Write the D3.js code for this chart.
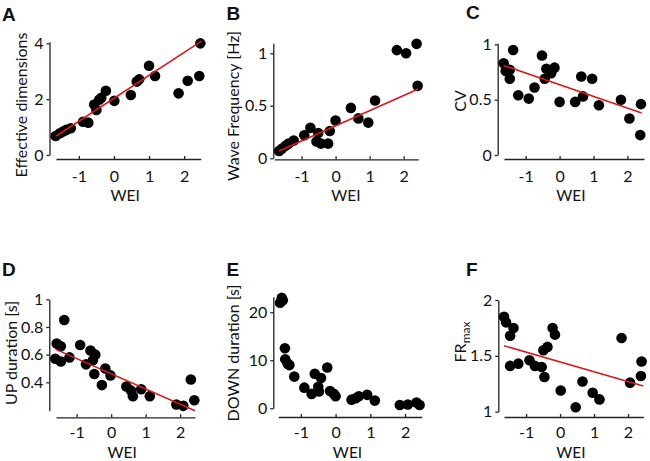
<!DOCTYPE html>
<html><head><meta charset="utf-8">
<script src="https://cdn.jsdelivr.net/npm/d3@7"></script>
<style>
body{margin:0;background:#fff;}
text{font-family:Lato,"Open Sans",sans-serif;fill:#111;}
</style></head>
<body>
<script>
// ---- Data ----
const xTickValues = [-1, 0, 1, 2];

const aX = [-1.66,-1.54,-1.45,-1.36,-1.23,-0.88,-0.73,-0.56,-0.5,-0.42,-0.36,-0.23,0.01,0.48,0.65,0.72,1.0,1.17,1.84,2.1,2.43,2.46];
const aY = [0.68,0.78,0.84,0.9,0.96,1.19,1.16,1.81,1.61,1.98,2.05,2.3,1.94,2.15,2.63,2.71,3.2,2.83,2.21,2.66,2.83,4.0];
const aFit = [[-1.64,0.68],[2.49,4.08]];
const aTicks = [0,2,4];

const bX = [-1.66,-1.58,-1.47,-1.38,-1.23,-0.92,-0.74,-0.51,-0.56,-0.43,-0.22,-0.17,0.0,0.45,0.67,0.96,1.16,1.8,2.07,2.38,2.41];
const bY = [0.07,0.09,0.12,0.14,0.17,0.22,0.29,0.24,0.16,0.14,0.14,0.26,0.36,0.48,0.38,0.34,0.55,1.03,1.0,1.09,0.69];
const bFit = [[-1.66,0.07],[2.43,0.66]];
const bTicks = [0,0.5,1];

const cX = [-1.65,-1.59,-1.47,-1.47,-1.37,-1.22,-0.91,-0.74,-0.52,-0.44,-0.39,-0.25,-0.15,0.0,0.46,0.64,0.69,0.96,1.16,1.81,2.06,2.4,2.38];
const cY = [0.83,0.76,0.77,0.69,0.95,0.54,0.51,0.61,0.9,0.69,0.78,0.74,0.79,0.48,0.48,0.71,0.53,0.69,0.45,0.5,0.33,0.46,0.18];
const cFit = [[-1.65,0.81],[2.42,0.38]];
const cTicks = [0,0.5,1];

const dX = [-1.62,-1.58,-1.46,-1.46,-1.36,-1.21,-0.9,-0.73,-0.6,-0.46,-0.49,-0.53,-0.27,-0.17,-0.02,0.44,0.58,0.63,0.87,1.12,1.89,2.09,2.31,2.41];
const dY = [0.57,0.68,0.66,0.55,0.85,0.58,0.67,0.53,0.63,0.6,0.46,0.56,0.38,0.5,0.45,0.37,0.34,0.3,0.35,0.3,0.24,0.23,0.42,0.27];
const dFit = [[-1.62,0.64],[2.43,0.195]];
const dTicks = [0.4,0.6,0.8,1];

const eX = [-1.6,-1.55,-1.52,-1.46,-1.45,-1.38,-1.33,-1.19,-0.9,-0.69,-0.6,-0.42,-0.5,-0.48,-0.24,-0.16,-0.05,0.0,0.46,0.58,0.67,0.91,1.13,1.85,2.08,2.33,2.42];
const eY = [22.0,23.0,22.5,12.5,10.2,9.3,9.0,6.6,4.3,3.0,7.2,6.3,4.5,3.5,8.5,3.6,3.0,2.5,1.8,2.1,2.5,2.8,1.6,0.7,0.8,1.2,0.7];
const eTicks = [0,10,20];

const fX = [-1.65,-1.59,-1.37,-1.47,-1.47,-1.23,-0.9,-0.74,-0.54,-0.46,-0.49,-0.37,-0.22,-0.15,0.02,0.46,0.66,0.96,1.16,1.81,2.06,2.4,2.38];
const fY = [1.85,1.8,1.75,1.68,1.41,1.43,1.46,1.41,1.4,1.31,1.55,1.58,1.75,1.69,1.19,1.04,1.27,1.17,1.11,1.66,1.26,1.45,1.32];
const fFit = [[-1.65,1.59],[2.45,1.23]];
const fTicks = [1,1.5,2];

// ---- Layout ----
const panels = [
  {tag:"A", xs:aX, ys:aY, fit:aFit, yTicks:aTicks, yLabel:"Effective dimensions",
   yAxisX:49.5, yDom:[0,4.06], yRange:[155,41.7], xAxisY:159, xDom:[-1.65,2.47], xRange:[56,200.7],
   lab:[21,105], tagPos:[2,21], tickY:23, xLabY:201},
  {tag:"B", xs:bX, ys:bY, fit:bFit, yTicks:bTicks, yLabel:"Wave Frequency [Hz]",
   yAxisX:273.3, yDom:[0,1.095], yRange:[158.3,43.3], xAxisY:159.3, xDom:[-1.80,2.43], xRange:[274.3,418.3],
   lab:[233,106], tagPos:[226.5,20], tickY:23, xLabY:201},
  {tag:"C", xs:cX, ys:cY, fit:cFit, yTicks:cTicks, yLabel:"CV",
   yAxisX:497.7, yDom:[0,1.01], yRange:[155,43.3], xAxisY:159, xDom:[-1.64,2.49], xRange:[504,644],
   lab:[460,101], tagPos:[466,19], tickY:23, xLabY:201},
  {tag:"D", xs:dX, ys:dY, fit:dFit, yTicks:dTicks, yLabel:"UP duration [s]",
   yAxisX:49.3, yDom:[0.195,1], yRange:[410.7,299.3], xAxisY:417.3, xDom:[-1.6,2.43], xRange:[56,195],
   lab:[11,353], tagPos:[2,276], tickY:21, xLabY:457.5},
  {tag:"E", xs:eX, ys:eY, fit:null, yTicks:eTicks, yLabel:"DOWN duration [s]",
   yAxisX:273.3, yDom:[0,23.25], yRange:[408.3,296.7], xAxisY:417, xDom:[-1.65,2.48], xRange:[278.3,421.7],
   lab:[233,353], tagPos:[226.5,276], tickY:21, xLabY:457.5},
  {tag:"F", xs:fX, ys:fY, fit:fFit, yTicks:fTicks, yLabel:"FR", yLabelSub:"max",
   yAxisX:498.3, yDom:[1,2], yRange:[411.7,300], xAxisY:417, xDom:[-1.65,2.45], xRange:[504,643.3],
   lab:[460,342], tagPos:[466,276], tickY:21, xLabY:457.5}
];

const svg = d3.select("body").append("svg").attr("width",650).attr("height",461);
const FS = 16;
const LFS = 16;

panels.forEach(p => {
  const g = svg.append("g");
  const x = d3.scaleLinear().domain(p.xDom).range(p.xRange);
  const y = d3.scaleLinear().domain(p.yDom).range(p.yRange);

  // x axis (ticks inward)
  const xa = g.append("g").attr("transform",`translate(0,${p.xAxisY})`)
    .call(d3.axisBottom(x).tickValues(xTickValues).tickSize(-3).tickSizeOuter(0)
      .tickPadding(0).tickFormat(d => String(d)));
  xa.selectAll("text").attr("y",p.tickY).attr("dy",null).style("font-size",FS+"px");
  // y axis (ticks outward)
  const ya = g.append("g").attr("transform",`translate(${p.yAxisX},0)`)
    .call(d3.axisLeft(y).tickValues(p.yTicks).tickSize(3).tickSizeOuter(0).tickPadding(3)
      .tickFormat(d => String(d)));
  ya.selectAll("text").style("font-size",FS+"px");
  g.selectAll(".domain, .tick line").attr("stroke","#222").attr("stroke-width",1.3);

  // points
  g.append("g").selectAll("circle").data(p.xs.map((v,i)=>[v,p.ys[i]])).join("circle")
    .attr("cx",d=>x(d[0])).attr("cy",d=>y(d[1])).attr("r",5.3).attr("fill","#000");

  // fit line
  if (p.fit) {
    g.append("line")
      .attr("x1",x(p.fit[0][0])).attr("y1",y(p.fit[0][1]))
      .attr("x2",x(p.fit[1][0])).attr("y2",y(p.fit[1][1]))
      .attr("stroke","#d7191c").attr("stroke-width",1.6);
  }

  // x label
  g.append("text").attr("x",(p.yAxisX+p.xRange[1])/2).attr("y",p.xLabY)
    .attr("text-anchor","middle").style("font-size","15.5px").text("WEI");

  // y label
  const yl = g.append("text").attr("transform",`translate(${p.lab[0]},${p.lab[1]}) rotate(-90)`)
    .attr("text-anchor","middle").attr("dy","0.35em").style("font-size",LFS+"px");
  yl.append("tspan").text(p.yLabel);
  if (p.yLabelSub) yl.append("tspan").attr("dy","0.35em").style("font-size","12px").text(p.yLabelSub);

  // panel tag
  svg.append("text").attr("x",p.tagPos[0]).attr("y",p.tagPos[1])
    .style("font-family","'Liberation Sans',Arial,sans-serif").style("font-weight","bold")
    .style("font-size","19px").text(p.tag);
});
</script>
</body></html>
